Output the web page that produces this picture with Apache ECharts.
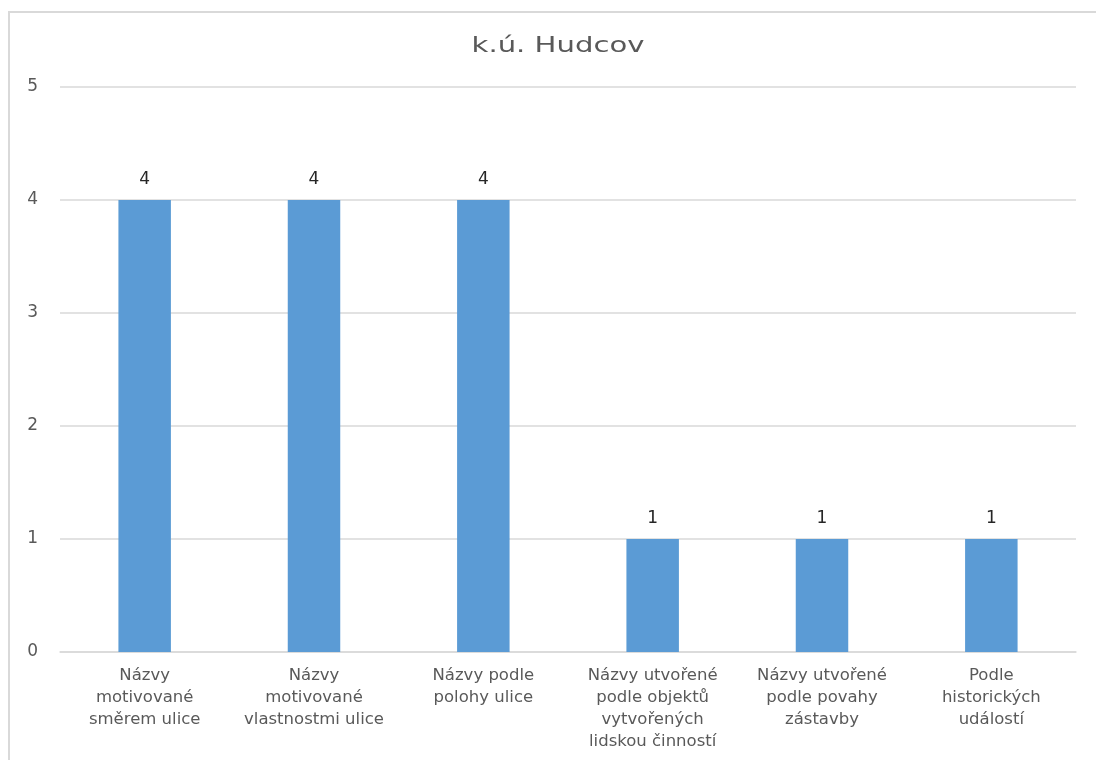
<!DOCTYPE html>
<html>
<head>
<meta charset="utf-8">
<script src="https://cdn.jsdelivr.net/npm/echarts@6/dist/echarts.min.js"></script>
<style>
  html, body { margin: 0; padding: 0; background: #fff; }
  #chart { width: 1096px; height: 760px; }
</style>
</head>
<body>
<div id="chart"></div>
<script>
// Street-name categories (axis labels, with line breaks as printed)
const categories = [
  'Názvy\nmotivované\nsměrem ulice',
  'Názvy\nmotivované\nvlastnostmi ulice',
  'Názvy podle\npolohy ulice',
  'Názvy utvořené\npodle objektů\nvytvořených\nlidskou činností',
  'Názvy utvořené\npodle povahy\nzástavby',
  'Podle\nhistorických\nudálostí'
];
// Number of street names in each category
const counts = [4, 4, 4, 1, 1, 1];
const yTicks = { min: 0, max: 5, interval: 1 };
const chartTitle = 'k.ú. Hudcov';

const FONT = 'DejaVu Sans, Open Sans, sans-serif';
const chart = echarts.init(document.getElementById('chart'));
chart.setOption({
  animation: false,
  textStyle: { fontFamily: FONT },
  graphic: [
    {
      type: 'rect',
      shape: { x: 9, y: 12, width: 1200, height: 900 },
      style: { fill: 'none', stroke: '#d9d9d9', lineWidth: 2 },
      silent: true
    },
    {
      // wide-set chart title
      type: 'text',
      x: 558,
      y: 47,
      scaleX: 1.42,
      silent: true,
      style: {
        text: chartTitle,
        x: 0,
        y: 0,
        align: 'center',
        verticalAlign: 'middle',
        fontFamily: FONT,
        fontSize: 20.5,
        fill: '#595959'
      }
    }
  ],
  grid: { left: 60, right: 20, top: 87, bottom: 108 },
  xAxis: {
    type: 'category',
    data: categories,
    axisLine: { lineStyle: { color: '#d9d9d9', width: 1.5 } },
    axisTick: { show: false },
    axisLabel: {
      interval: 0,
      color: '#595959',
      fontSize: 16.5,
      lineHeight: 22,
      margin: 13,
      align: 'center'
    }
  },
  yAxis: {
    type: 'value',
    min: yTicks.min,
    max: yTicks.max,
    interval: yTicks.interval,
    axisLine: { show: false },
    axisTick: { show: false },
    splitLine: { lineStyle: { color: '#d9d9d9', width: 1.5 } },
    axisLabel: { color: '#595959', fontSize: 17, margin: 22 }
  },
  series: [{
    type: 'bar',
    data: counts,
    barWidth: '31%',
    itemStyle: { color: '#5b9bd5' },
    label: {
      show: true,
      position: 'top',
      distance: 12,
      color: '#262626',
      fontSize: 17
    }
  }]
});
</script>
</body>
</html>
